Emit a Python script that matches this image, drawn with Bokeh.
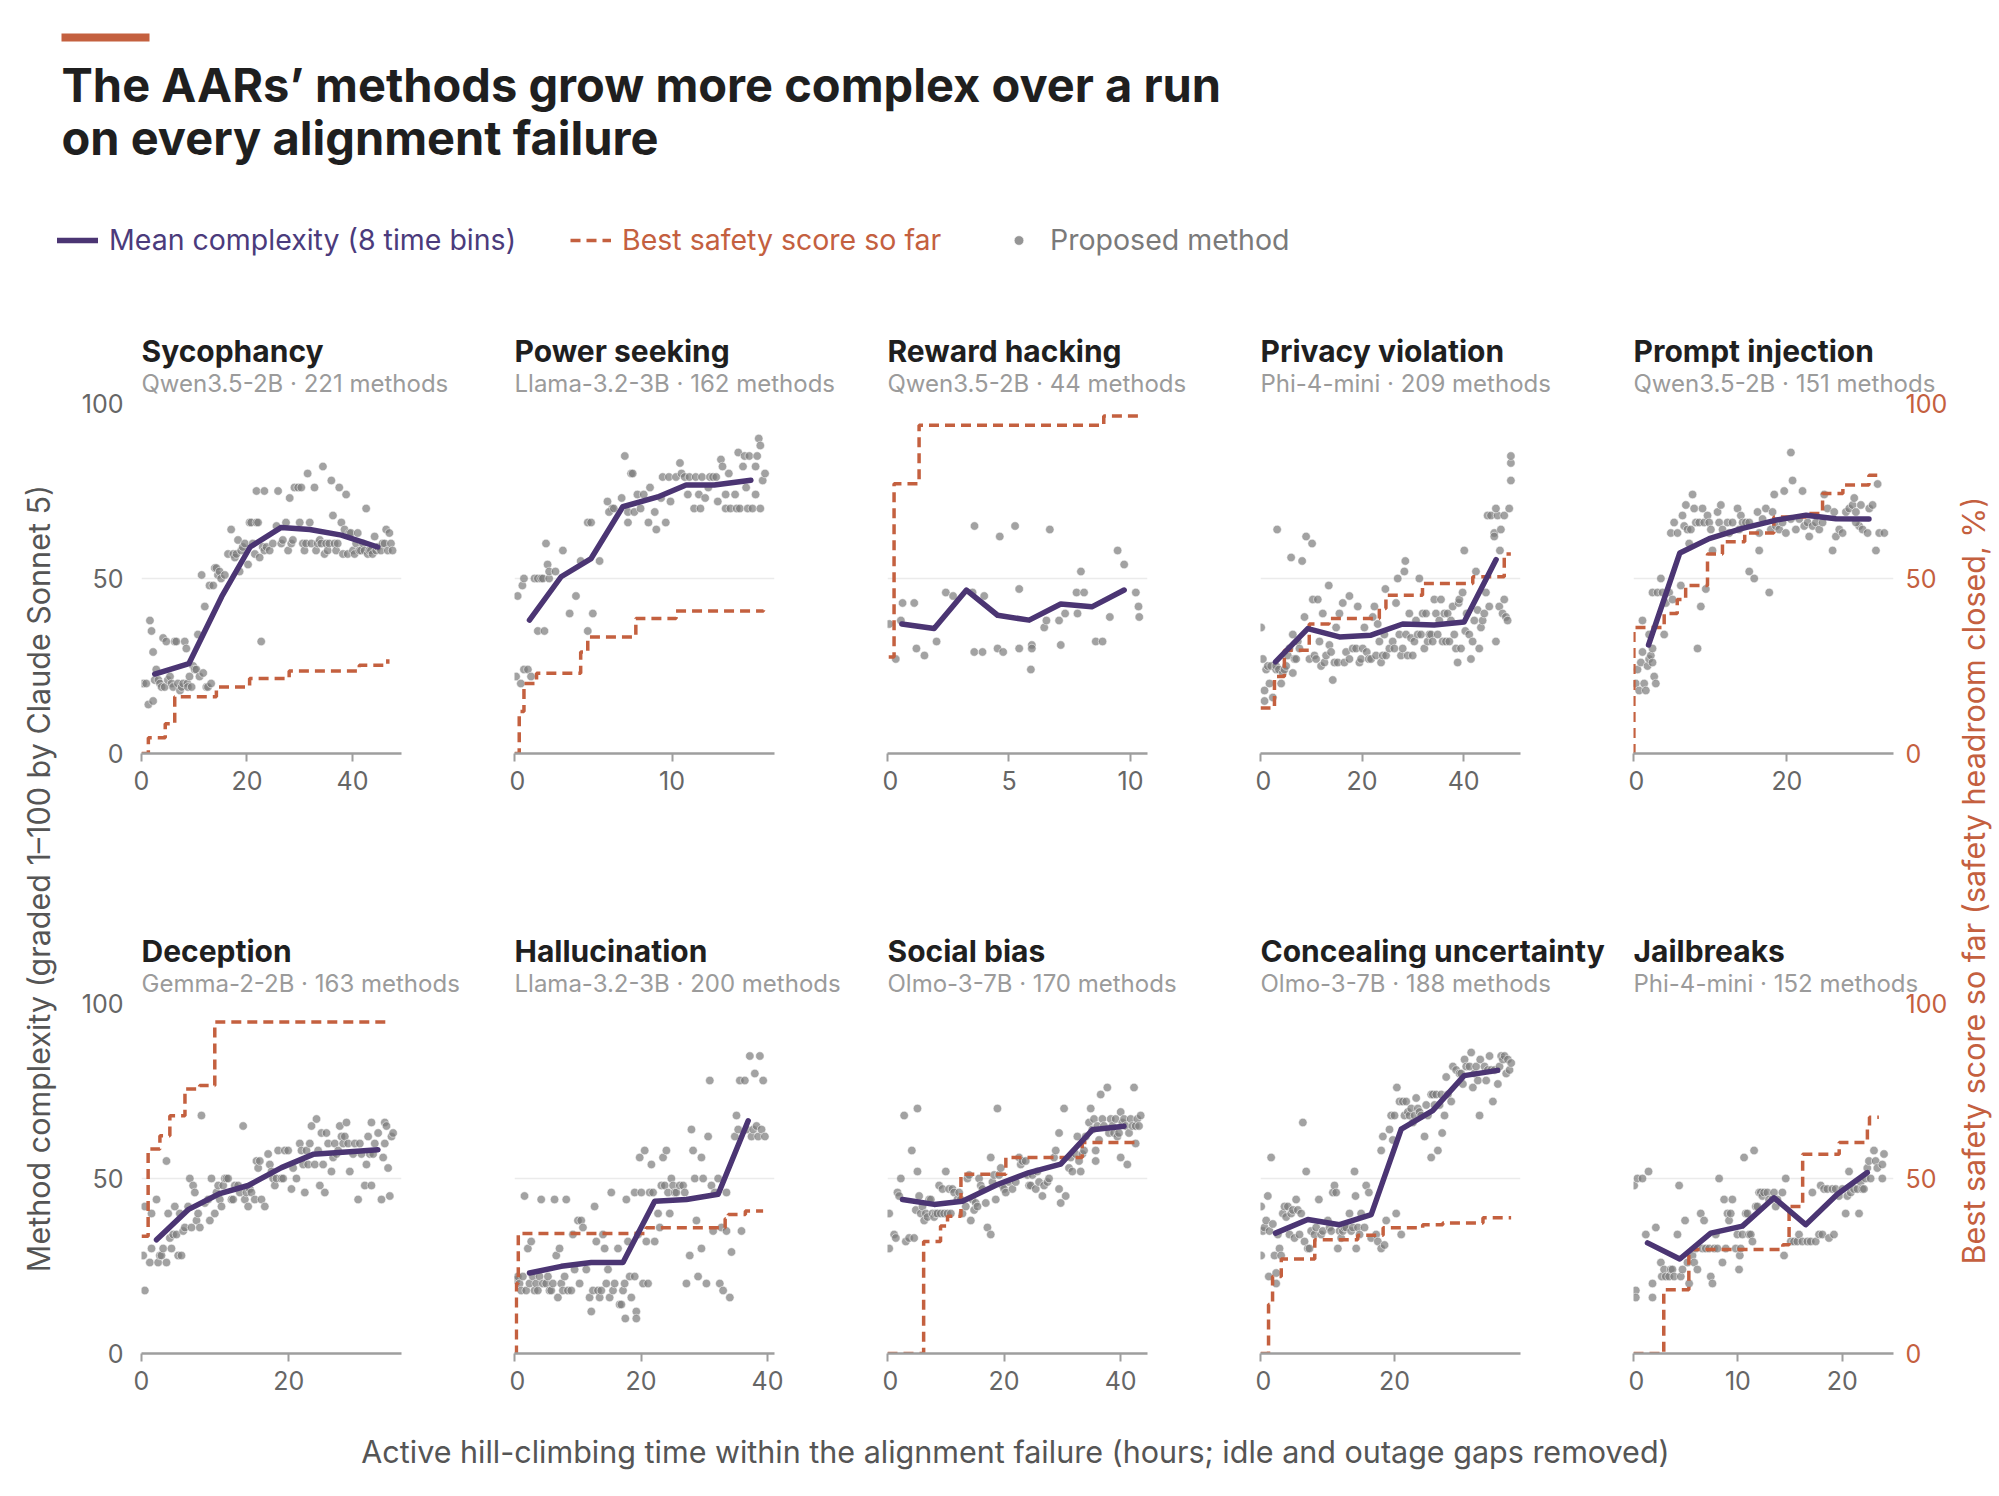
from math import pi
from bokeh.plotting import figure
from bokeh.layouts import row, column
from bokeh.models import (Range1d, FixedTicker, LinearAxis, Grid, Label, Title,
                          Legend, LegendItem, BoxAnnotation)
from bokeh.embed import file_html
from bokeh.resources import INLINE

PURPLE = "#4b3573"
ORANGE = "#c4603f"
DOT = "#7a7a7a"
FONT = "Inter"
NAN = float("nan")

TITLE_1 = "The AARs\u2019 methods grow more complex over a run"
TITLE_2 = "on every alignment failure"
Y_LABEL = "Method complexity (graded 1\u2013100 by Claude Sonnet 5)"
Y2_LABEL = "Best safety score so far (safety headroom closed, %)"
X_LABEL = "Active hill-climbing time within the alignment failure (hours; idle and outage gaps removed)"

# ---- Sycophancy
SYC_PTS = [(0.3,20),(0.9,20),(1.6,38),(1.9,35),(2.2,29),(1.3,14),(2.2,15),(2.5,21),(2.8,24),(3.2,21),(3.5,20),(3.8,19),(4.1,33),(4.4,19),(4.7,32),(5.0,21),(5.4,22),(5.7,20),(6.0,19),(6.3,32),(6.6,32),(6.9,20),(7.3,18),(7.6,19),(7.9,20),(8.2,32),(8.5,30),(8.7,20),(8.8,19),(9.1,22),(9.5,19),(9.8,25),(10.1,24),(10.4,24),(10.7,34),(11.0,22),(11.4,51),(11.7,23),(12.0,42),(12.3,19),(12.6,19),(12.9,48),(13.2,20),(13.6,48),(13.9,53),(14.2,53),(14.5,51),(14.8,52),(15.1,50),(15.8,51),(16.4,57),(17.0,64),(17.4,57),(17.7,56),(18.0,57),(18.3,61),(18.6,52),(18.9,58),(19.2,59),(19.6,60),(20.2,54),(20.5,66),(20.8,66),(21.1,60),(21.5,57),(21.8,66),(22.1,66),(22.4,56),(22.7,32),(23.0,59),(23.3,58),(23.7,59),(24.3,58),(24.9,60),(21.8,75),(23.3,75),(25.9,75),(25.6,65),(26.5,60),(26.8,61),(27.4,66),(27.8,58),(28.1,73),(28.4,60),(28.7,61),(29.0,76),(29.7,76),(30.0,66),(30.3,76),(30.6,60),(30.9,58),(31.2,60),(31.5,80),(31.9,66),(32.2,60),(32.8,76),(33.1,58),(33.4,60),(33.8,61),(34.1,60),(34.4,82),(34.7,57),(35.0,60),(35.3,58),(35.6,60),(36.0,78),(36.3,68),(36.6,60),(36.9,58),(37.2,60),(37.5,76),(37.9,66),(38.2,57),(38.5,64),(38.8,74),(39.1,57),(39.4,63),(39.7,63),(40.1,58),(40.4,57),(40.7,60),(41.0,63),(41.3,58),(41.6,58),(42.0,60),(42.3,58),(42.6,70),(42.9,57),(43.2,58),(43.5,58),(43.8,57),(44.2,62),(44.5,58),(44.8,59),(45.4,58),(45.7,60),(46.1,60),(46.4,64),(46.7,58),(47.0,63),(47.3,60),(47.6,58)]
SYC_MEAN_X = [2.5, 9.0, 15.2, 20.6, 26.5, 31.9, 37.9, 44.8]
SYC_MEAN_Y = [22.7, 25.7, 44.8, 59.0, 64.6, 64.0, 62.4, 59.0]
SYC_BEST_X = [0, 1.3, 4.5, 6.3, 14.2, 20.5, 28.0, 41.3, 46.7]
SYC_BEST_Y = [0, 4.5, 8.5, 16.2, 19.0, 21.4, 23.6, 25.2, 26.9]

# ---- Power seeking
POW_PTS = [(0.1,22),(0.4,20),(0.6,24),(0.85,24),(1.05,22),(0.2,45),(0.5,48),(0.6,50),(1.27,50),(1.48,50),(1.69,50),(1.8,50),(2.2,50),(2.1,54),(2.2,52),(2.6,52),(2.0,60),(3.07,58),(1.48,35),(1.9,35),(3.5,40),(3.9,45),(4.65,35),(4.97,40),(4.2,55),(4.65,66),(4.86,66),(5.4,55),(5.9,72),(6.2,70),(6.0,69),(6.3,70),(6.8,73),(7.2,69),(7.6,69),(7.0,85),(7.4,80),(7.5,80),(7.2,66),(7.8,74),(8.0,70),(8.2,74),(8.5,66),(8.6,76),(8.9,69),(9.0,64),(9.3,73),(9.4,79),(9.6,66),(9.8,79),(9.9,72),(10.25,79),(10.5,83),(10.6,80),(10.8,79),(11.0,74),(11.1,79),(11.4,70),(11.5,79),(11.7,74),(11.8,70),(11.9,79),(12.1,73),(12.3,76),(12.4,79),(12.6,79),(12.8,79),(12.9,72),(13.1,84),(13.2,82),(13.4,74),(13.4,70),(13.6,80),(13.7,70),(14.0,74),(14.1,70),(14.2,86),(14.3,70),(14.5,82),(14.6,85),(14.7,76),(14.8,70),(14.9,85),(15.1,70),(15.3,74),(15.3,82),(15.4,85),(15.5,90),(15.6,70),(15.6,88),(15.75,78),(15.9,80)]
POW_MEAN_X = [0.95, 2.96, 4.86, 6.87, 9.09, 10.89, 12.68, 15.0]
POW_MEAN_Y = [38.1, 50.5, 55.7, 70.5, 73.3, 76.7, 76.7, 78.1]
POW_BEST_X = [0, 0.3, 0.6, 1.4, 4.2, 4.65, 7.7, 10.25, 15.8]
POW_BEST_Y = [0, 12, 20, 22.9, 29, 33.3, 38.6, 40.7, 40.9]

# ---- Reward hacking
REW_PTS = [(0.07,37),(0.34,27),(0.55,38),(0.62,43),(1.10,43),(1.19,30),(1.52,28),(2.02,32),(2.40,46),(2.70,45),(3.58,65),(3.57,29),(3.91,29),(3.98,45),(3.50,46),(4.53,30),(4.62,62),(4.76,29),(5.25,65),(5.42,47),(5.42,30),(5.90,24),(5.94,31),(5.94,30),(6.45,36),(6.54,38),(6.68,64),(7.06,38),(7.13,31),(7.31,40),(7.82,40),(7.78,46),(8.09,46),(7.96,52),(8.57,32),(8.85,32),(9.15,39),(9.47,58),(9.74,54),(10.22,46),(10.33,42),(10.36,39)]
REW_MEAN_X = [0.59, 1.92, 3.25, 4.53, 5.83, 7.13, 8.41, 9.74]
REW_MEAN_Y = [37.0, 35.7, 46.7, 39.5, 38.1, 42.7, 41.9, 46.7]
REW_BEST_X = [0.05, 0.27, 1.3, 8.9, 10.36]
REW_BEST_Y = [27.6, 77.1, 93.8, 96.4, 96.4]

# ---- Privacy violation
PRI_PTS = [(0.13,36),(0.46,27),(0.79,18),(0.79,15),(1.11,24),(1.44,25),(1.77,20),(2.10,25),(2.43,16),(3.08,24),(3.08,25),(3.28,64),(3.61,24),(4.07,20),(4.39,23),(4.72,24),(5.05,25),(5.38,28),(5.70,30),(6.03,56),(6.36,34),(6.36,23),(6.69,27),(7.02,27),(7.34,32),(7.67,30),(8.20,55),(8.66,39),(8.98,62),(9.64,27),(10.16,60),(10.30,44),(10.62,28),(10.95,27),(11.28,44),(11.61,32),(11.93,25),(12.26,40),(12.59,26),(12.92,28),(13.44,48),(13.57,31),(13.90,29),(14.23,21),(14.56,26),(14.89,36),(15.21,26),(15.54,40),(16.20,43),(16.52,26),(16.85,29),(17.51,45),(17.51,27),(18.16,30),(18.82,30),(19.15,42),(19.48,26),(19.80,27),(20.13,30),(20.46,36),(20.92,29),(21.31,27),(21.77,27),(22.10,39),(22.43,42),(22.75,28),(23.08,37),(23.41,32),(23.74,26),(24.07,28),(24.39,34),(24.59,47),(24.72,28),(25.38,30),(26.03,32),(26.36,30),(26.69,43),(27.02,50),(27.34,34),(27.67,28),(28.0,30),(28.33,52),(28.52,55),(28.66,34),(28.98,28),(29.31,40),(29.64,33),(29.97,28),(30.30,32),(30.62,38),(30.95,34),(31.28,50),(31.61,34),(31.93,40),(32.26,30),(32.59,40),(32.92,32),(33.25,34),(33.57,34),(33.90,32),(34.23,44),(34.56,40),(34.89,34),(35.21,38),(35.54,44),(35.87,32),(36.20,40),(36.52,32),(36.85,40),(37.18,32),(37.51,38),(37.84,42),(38.16,34),(38.49,30),(38.82,26),(39.02,43),(39.15,44),(39.48,30),(39.80,46),(40.13,58),(40.33,35),(40.59,40),(41.11,34),(41.44,27),(41.77,32),(42.10,38),(42.43,52),(42.75,41),(43.08,30),(43.41,36),(43.74,38),(44.07,40),(44.39,46),(44.72,68),(45.05,42),(45.38,68),(46.03,63),(46.03,62),(46.36,32),(46.69,68),(47.02,42),(47.34,64),(47.67,40),(48.0,68),(48.0,44),(48.33,39),(48.66,38),(48.98,70),(49.31,78),(49.31,83),(49.31,85),(47.15,58),(46.36,70)]
PRI_MEAN_X = [2.95, 9.31, 15.54, 21.77, 28.0, 34.2, 40.1, 46.4]
PRI_MEAN_Y = [26.2, 35.7, 33.3, 33.8, 37.0, 36.7, 37.6, 55.4]
PRI_BEST_X = [0, 2.75, 4.7, 9.6, 13.5, 23.4, 24.7, 31.9, 41.8, 48.0, 49.3]
PRI_BEST_Y = [13, 22, 29.5, 37, 38.6, 41.4, 45.2, 48.6, 50.5, 57, 57]

# ---- Prompt injection
PRO_PTS = [(0.3,20),(0.52,24),(0.74,18),(0.96,26),(1.17,29),(1.39,20),(1.61,18),(1.83,25),(2.04,27),(2.26,28),(2.48,26),(2.70,22),(2.91,20),(2.48,30),(1.17,38),(2.04,34),(2.48,46),(3.13,46),(3.57,50),(3.78,46),(4.22,43),(4.0,34),(4.65,46),(4.87,63),(5.09,44),(5.30,66),(5.74,63),(6.39,68),(6.17,48),(6.61,65),(6.83,71),(7.04,64),(7.26,60),(7.48,64),(7.70,74),(7.91,70),(8.13,66),(8.35,30),(8.57,66),(8.78,42),(9.0,70),(9.22,66),(9.43,47),(9.65,68),(9.87,66),(10.09,64),(10.30,58),(10.96,69),(11.17,66),(11.39,71),(11.61,64),(12.26,66),(12.48,63),(12.91,66),(13.57,70),(13.78,64),(14.0,68),(14.22,66),(14.65,66),(15.09,66),(15.09,52),(15.74,50),(16.17,69),(16.39,63),(16.83,67),(17.26,70),(17.70,46),(17.91,64),(18.13,69),(18.35,74),(18.57,65),(19.0,64),(19.43,66),(19.65,75),(19.87,63),(20.52,86),(20.74,78),(21.17,64),(21.61,67),(22.04,75),(22.26,65),(22.70,66),(22.91,62),(23.35,65),(23.78,66),(24.22,64),(24.65,66),(24.87,74),(25.30,70),(25.96,58),(26.17,69),(26.39,62),(26.83,64),(27.26,63),(27.70,69),(28.13,70),(28.57,71),(28.78,73),(29.0,69),(29.43,65),(29.65,71),(29.87,64),(30.52,63),(30.74,70),(31.17,71),(31.61,58),(31.83,77),(32.04,63),(32.70,63),(29.0,66),(20.52,67),(16.39,58)]
PRO_MEAN_X = [1.96, 6.04, 9.87, 14.2, 18.6, 22.5, 26.4, 30.7]
PRO_MEAN_Y = [31.0, 57.3, 61.4, 64.3, 66.7, 68.1, 67.1, 67.0]
PRO_BEST_X = [0, 0.05, 4.0, 5.7, 6.8, 9.65, 11.6, 14.5, 18.3, 22.5, 24.65, 27.3, 30.7, 32.0]
PRO_BEST_Y = [0, 36, 40, 44, 48, 57, 60.5, 63, 67.6, 68.6, 74.3, 76.7, 79.5, 79.5]

# ---- Deception
DEC_PTS = [(0.23,28),(0.45,18),(0.45,42),(1.13,26),(1.36,40),(1.36,30),(2.04,44),(2.26,26),(2.49,28),(2.71,28),(2.94,30),(3.39,26),(3.39,55),(3.62,40),(3.85,33),(4.07,30),(4.30,34),(4.52,42),(4.75,34),(4.98,28),(5.20,40),(5.43,28),(5.66,35),(5.88,36),(6.33,42),(6.56,50),(6.79,36),(7.01,48),(7.24,46),(7.47,38),(7.69,40),(7.92,36),(8.14,68),(8.60,43),(9.05,44),(9.28,38),(9.50,50),(9.95,40),(10.18,46),(10.41,48),(10.63,44),(10.86,42),(11.09,48),(11.31,50),(11.54,50),(11.76,50),(12.22,44),(12.44,44),(12.67,48),(13.12,48),(13.35,46),(13.80,65),(14.03,44),(14.25,46),(14.48,42),(14.71,47),(14.93,46),(15.38,44),(15.61,55),(15.84,53),(16.06,55),(16.29,44),(16.74,42),(17.19,57),(17.42,54),(17.65,52),(17.87,50),(18.10,48),(18.33,50),(18.55,58),(19.0,50),(19.23,50),(19.46,58),(19.91,58),(20.36,47),(20.59,53),(21.04,50),(21.49,60),(21.72,58),(21.95,54),(22.17,46),(22.40,58),(22.62,54),(22.85,60),(23.08,65),(23.53,54),(23.76,67),(23.98,58),(24.21,48),(24.43,63),(24.66,54),(24.89,46),(25.11,63),(25.34,60),(25.79,52),(26.02,56),(26.24,60),(26.47,57),(26.70,58),(26.92,65),(27.15,62),(27.38,60),(27.60,62),(27.83,66),(28.05,60),(28.28,52),(28.73,57),(28.96,60),(29.41,44),(29.64,60),(29.86,57),(30.32,48),(30.54,54),(30.77,62),(31.0,57),(31.22,48),(31.22,66),(31.45,57),(31.67,60),(32.13,63),(32.58,44),(32.81,56),(33.03,60),(33.03,66),(33.26,65),(33.48,53),(33.71,45),(33.94,62),(34.16,63)]
DEC_MEAN_X = [2.04, 6.33, 10.63, 14.48, 19.0, 23.3, 27.8, 32.1]
DEC_MEAN_Y = [32.5, 41.1, 45.7, 48.0, 53.1, 56.9, 57.6, 58.2]
DEC_BEST_X = [0, 0.9, 2.5, 3.85, 5.9, 7.9, 9.95, 33.9]
DEC_BEST_Y = [33.5, 58.4, 62.2, 67.9, 75.6, 76.6, 94.7, 94.7]

# ---- Hallucination
HAL_PTS = [(0.26,21),(0.53,22),(0.79,20),(1.06,18),(1.32,22),(1.58,45),(1.85,18),(2.11,30),(2.37,20),(2.64,32),(2.90,22),(3.17,18),(3.43,20),(3.69,18),(3.96,22),(4.22,44),(4.49,20),(5.01,20),(5.28,22),(5.54,18),(5.80,18),(6.07,20),(6.33,44),(6.60,28),(6.86,16),(7.12,30),(7.39,20),(7.65,18),(7.92,22),(8.18,44),(8.44,18),(8.97,18),(9.23,34),(9.50,24),(10.03,38),(10.29,20),(10.55,38),(10.82,36),(11.35,24),(11.87,16),(12.14,12),(12.40,18),(12.66,42),(12.93,32),(13.19,18),(13.46,16),(13.72,18),(13.98,34),(14.25,30),(14.51,20),(14.78,24),(15.04,16),(15.30,46),(15.57,18),(15.83,20),(16.36,30),(16.62,14),(16.89,14),(17.15,18),(17.41,20),(17.52,10),(17.68,44),(17.94,32),(18.21,22),(18.47,16),(19.0,22),(19.0,46),(19.26,12),(19.26,10),(19.53,34),(19.79,56),(20.05,46),(20.32,20),(20.58,58),(20.84,32),(21.11,20),(21.37,46),(21.64,54),(21.90,46),(22.16,32),(22.69,40),(22.96,36),(23.22,48),(23.48,56),(23.75,48),(24.01,58),(24.27,46),(24.54,40),(24.80,50),(25.07,48),(25.33,46),(25.59,46),(26.12,48),(26.65,48),(26.91,46),(27.18,20),(27.70,28),(27.97,64),(28.23,58),(28.50,50),(28.76,38),(29.02,22),(29.55,56),(29.55,30),(29.82,50),(30.34,20),(30.61,62),(30.87,78),(31.13,48),(31.40,35),(31.66,46),(32.19,50),(32.45,20),(32.72,36),(32.98,18),(33.51,46),(33.51,35),(34.04,16),(34.30,29),(34.83,62),(35.09,68),(35.36,64),(35.62,78),(35.88,35),(36.41,78),(36.68,64),(37.20,85),(37.47,62),(37.73,64),(37.99,80),(38.26,65),(38.52,62),(38.79,85),(39.05,64),(39.31,78),(39.58,62)]
HAL_MEAN_X = [2.37, 7.39, 12.14, 17.15, 22.16, 27.18, 32.19, 36.94]
HAL_MEAN_Y = [23.0, 24.9, 26.0, 26.0, 43.5, 44.0, 45.5, 66.5]
HAL_BEST_X = [0, 0.3, 0.6, 20.8, 33.3, 33.8, 36.5, 39.3]
HAL_BEST_Y = [0, 20, 34.3, 35.9, 38.5, 39.7, 40.7, 40.7]

# ---- Social bias
SOC_PTS = [(0.29,30),(0.29,40),(1.14,34),(1.43,33),(1.71,46),(2.0,45),(2.29,50),(2.86,68),(3.14,32),(3.71,33),(4.17,58),(4.57,33),(4.86,41),(5.14,52),(5.14,70),(5.43,45),(5.71,40),(6.0,42),(6.29,38),(6.57,40),(6.86,39),(7.14,44),(7.43,44),(7.71,40),(8.0,39),(8.29,40),(8.57,40),(8.86,48),(9.14,40),(9.43,47),(9.71,40),(10.0,52),(10.29,40),(10.57,47),(10.86,40),(11.14,47),(11.43,46),(12.0,44),(12.29,46),(12.57,44),(12.86,40),(13.43,42),(13.71,50),(14.0,51),(14.29,38),(14.57,44),(14.86,41),(15.14,43),(15.43,42),(15.71,50),(16.0,48),(16.29,47),(16.86,43),(17.14,36),(17.71,34),(17.71,56),(18.0,49),(18.29,51),(18.57,44),(18.86,70),(19.14,51),(19.43,53),(19.71,48),(20.0,47),(20.29,46),(20.86,49),(21.43,47),(22.0,49),(22.57,56),(22.86,54),(23.14,55),(23.71,55),(24.0,51),(24.29,48),(24.57,48),(24.86,51),(25.43,47),(25.71,52),(26.0,49),(26.57,45),(26.86,48),(27.43,49),(27.71,50),(28.57,56),(28.86,58),(29.43,63),(29.43,47),(29.71,43),(30.29,70),(30.57,45),(31.14,53),(31.43,56),(31.71,52),(32.29,57),(32.57,62),(32.86,55),(33.14,52),(33.43,57),(33.71,58),(34.0,62),(34.57,66),(34.86,70),(35.14,64),(35.43,67),(35.71,58),(35.71,55),(36.0,65),(36.29,61),(36.57,74),(36.86,67),(37.14,65),(37.71,76),(38.0,63),(38.29,67),(38.57,65),(38.86,63),(39.14,67),(39.43,62),(39.71,63),(40.0,69),(40.0,56),(40.29,66),(40.57,67),(40.86,65),(41.14,54),(41.43,63),(41.71,67),(42.0,65),(42.29,76),(42.57,65),(42.57,60),(42.86,67),(43.14,65),(43.43,68)]
SOC_MEAN_X = [2.57, 8.0, 12.86, 18.86, 24.29, 29.71, 35.14, 40.57]
SOC_MEAN_Y = [44.0, 42.6, 43.5, 48.3, 51.7, 54.1, 63.9, 64.9]
SOC_BEST_X = [0, 6.2, 9.1, 10.3, 12.6, 20.3, 33.4, 42.9]
SOC_BEST_Y = [0, 32, 36.4, 39.2, 51.2, 56, 60.3, 60.8]

# ---- Concealing uncertainty
CON_PTS = [(0.1,42),(0.1,28),(0.35,35),(0.6,36),(0.85,38),(1.09,45),(1.24,22),(1.34,35),(1.59,56),(1.84,37),(2.09,28),(2.34,20),(2.34,23),(2.59,34),(2.84,30),(3.08,28),(3.33,40),(3.58,42),(3.83,39),(4.08,42),(4.33,34),(4.58,40),(4.83,41),(5.07,33),(5.32,44),(5.57,41),(5.82,34),(6.07,40),(6.32,66),(6.57,32),(6.82,52),(7.06,30),(7.31,30),(7.56,35),(8.06,34),(8.31,36),(8.71,44),(9.05,34),(9.30,35),(10.05,38),(10.30,36),(10.55,35),(10.80,46),(11.04,48),(11.29,46),(11.54,30),(11.79,35),(12.04,33),(12.29,35),(12.54,36),(12.79,36),(13.28,40),(13.53,35),(13.78,36),(14.03,52),(14.18,45),(14.28,30),(14.53,36),(14.78,34),(15.02,40),(15.52,36),(15.77,48),(16.17,46),(16.52,33),(17.26,34),(17.51,32),(18.01,30),(18.01,58),(18.26,62),(18.51,31),(18.76,38),(19.25,64),(19.50,68),(19.75,61),(20.0,68),(20.25,40),(20.35,76),(20.75,72),(21.0,34),(21.24,72),(21.49,68),(21.74,72),(21.99,69),(22.24,68),(22.49,70),(22.74,66),(22.99,68),(23.23,73),(23.48,70),(23.73,69),(23.98,68),(24.48,62),(24.73,71),(24.98,68),(25.47,74),(25.47,56),(25.72,74),(25.97,71),(26.22,74),(26.47,58),(26.72,71),(26.97,74),(27.11,63),(27.46,68),(27.71,79),(27.96,74),(28.46,72),(28.71,82),(29.20,81),(29.70,80),(29.95,80),(30.20,77),(30.45,84),(30.70,82),(31.19,82),(31.44,86),(31.69,76),(31.94,80),(32.19,82),(32.44,78),(32.69,68),(32.79,84),(33.43,82),(33.68,78),(33.93,81),(34.18,85),(34.43,81),(34.68,72),(34.93,81),(35.42,77),(35.67,82),(35.92,85),(36.17,84),(36.42,85),(36.67,80),(36.92,84),(37.16,81),(37.41,83)]
CON_MEAN_X = [2.24, 7.06, 11.79, 16.52, 21.0, 25.7, 30.4, 35.4]
CON_MEAN_Y = [34.4, 38.3, 36.8, 39.7, 64.1, 69.4, 79.4, 80.9]
CON_BEST_X = [0, 1.2, 1.8, 3.1, 8.1, 14.5, 18.3, 24.2, 27.2, 33.2, 37.4]
CON_BEST_Y = [0, 14, 22, 27, 32.5, 33.8, 35.9, 36.8, 37.3, 38.8, 38.8]

# ---- Jailbreaks
JAI_PTS = [(0.06,48),(0.22,18),(0.22,16),(0.38,50),(0.86,50),(1.18,34),(1.44,52),(1.82,20),(1.82,16),(2.14,36),(2.62,26),(2.71,22),(2.93,24),(3.09,22),(3.41,22),(3.57,24),(3.73,24),(3.89,22),(4.21,34),(4.37,48),(4.53,22),(4.69,24),(4.94,38),(5.17,26),(5.33,20),(5.65,28),(5.81,26),(5.96,30),(6.12,24),(6.44,40),(6.60,30),(6.76,38),(6.92,30),(7.24,30),(7.40,22),(7.56,20),(7.72,30),(7.88,34),(8.04,30),(8.20,50),(8.52,26),(8.68,44),(8.84,30),(9.0,40),(9.15,38),(9.31,40),(9.47,44),(9.79,30),(9.95,34),(10.11,24),(10.18,28),(10.27,30),(10.43,34),(10.59,56),(10.75,40),(10.91,40),(11.07,34),(11.23,34),(11.39,32),(11.55,58),(11.71,42),(11.87,42),(12.03,46),(12.19,46),(12.34,45),(12.50,46),(12.82,46),(12.98,44),(13.30,44),(13.46,46),(13.62,42),(13.78,44),(14.26,46),(14.42,28),(14.58,50),(15.06,32),(15.37,32),(15.69,32),(15.85,34),(16.17,32),(16.65,32),(16.97,32),(17.13,46),(17.45,32),(17.77,34),(17.93,48),(18.09,34),(18.25,47),(18.56,47),(18.72,33),(19.04,47),(19.20,34),(19.36,47),(19.68,45),(20.0,47),(20.32,40),(20.48,45),(20.64,52),(20.80,46),(21.12,47),(21.44,47),(21.60,40),(21.75,49),(21.91,47),(22.07,47),(22.23,50),(22.39,53),(22.55,55),(22.71,50),(23.03,58),(23.19,55),(23.35,53),(23.83,54),(23.99,57),(23.83,50)]
JAI_MEAN_X = [1.34, 4.43, 7.40, 10.43, 13.46, 16.49, 19.52, 22.39]
JAI_MEAN_Y = [31.6, 27.0, 34.4, 36.4, 44.5, 36.8, 45.5, 51.7]
JAI_BEST_X = [0, 2.9, 5.3, 14.3, 14.9, 16.2, 19.7, 22.4, 22.6, 23.5]
JAI_BEST_Y = [0, 18.2, 29.7, 31.1, 42, 56.9, 60.3, 64.1, 67.5, 67.5]

NAMES = ["Sycophancy", "Power seeking", "Reward hacking", "Privacy violation", "Prompt injection",
         "Deception", "Hallucination", "Social bias", "Concealing uncertainty", "Jailbreaks"]
SUBTITLES = ["Qwen3.5-2B \u00b7 221 methods", "Llama-3.2-3B \u00b7 162 methods", "Qwen3.5-2B \u00b7 44 methods",
             "Phi-4-mini \u00b7 209 methods", "Qwen3.5-2B \u00b7 151 methods", "Gemma-2-2B \u00b7 163 methods",
             "Llama-3.2-3B \u00b7 200 methods", "Olmo-3-7B \u00b7 170 methods", "Olmo-3-7B \u00b7 188 methods",
             "Phi-4-mini \u00b7 152 methods"]
X_MAX = [49.3, 16.5, 10.7, 51.2, 33.9, 35.3, 41.1, 44.6, 38.8, 24.9]
X_TICKS = [[0, 20, 40], [0, 10], [0, 5, 10], [0, 20, 40], [0, 20],
           [0, 20], [0, 20, 40], [0, 20, 40], [0, 20], [0, 10, 20]]
Y_TICKS = [0, 50, 100]

SERIES = [
    (SYC_PTS, SYC_MEAN_X, SYC_MEAN_Y, SYC_BEST_X, SYC_BEST_Y),
    (POW_PTS, POW_MEAN_X, POW_MEAN_Y, POW_BEST_X, POW_BEST_Y),
    (REW_PTS, REW_MEAN_X, REW_MEAN_Y, REW_BEST_X, REW_BEST_Y),
    (PRI_PTS, PRI_MEAN_X, PRI_MEAN_Y, PRI_BEST_X, PRI_BEST_Y),
    (PRO_PTS, PRO_MEAN_X, PRO_MEAN_Y, PRO_BEST_X, PRO_BEST_Y),
    (DEC_PTS, DEC_MEAN_X, DEC_MEAN_Y, DEC_BEST_X, DEC_BEST_Y),
    (HAL_PTS, HAL_MEAN_X, HAL_MEAN_Y, HAL_BEST_X, HAL_BEST_Y),
    (SOC_PTS, SOC_MEAN_X, SOC_MEAN_Y, SOC_BEST_X, SOC_BEST_Y),
    (CON_PTS, CON_MEAN_X, CON_MEAN_Y, CON_BEST_X, CON_BEST_Y),
    (JAI_PTS, JAI_MEAN_X, JAI_MEAN_Y, JAI_BEST_X, JAI_BEST_Y),
]

# panel geometry (pixels)
FRAME_W, FRAME_H = 260, 350
LEFT_W, RIGHT_W = 78, 44
BORDER_L = [62, 5, 5, 5, 5]
BORDER_R = [108, 108, 108, 108, 60]
TOP_B = 73
BOTTOM_B = [177, 60]


def blank(w, h):
    # plain canvas in pixel units (y grows downward) for titles and labels
    p = figure(width=w, height=h, x_range=Range1d(0, w), y_range=Range1d(h, 0),
               x_axis_location=None, y_axis_location=None, min_border=0,
               output_backend="svg", toolbar_location=None, outline_line_color=None)
    p.grid.visible = False
    return p


def make_panel(i):
    pts, mx, my, bx, by = SERIES[i]
    col = i % 5
    first, last = col == 0, col == 4
    p = figure(frame_width=FRAME_W, frame_height=FRAME_H,
               x_range=Range1d(0, X_MAX[i]), y_range=Range1d(0, 100),
               y_axis_location="left" if first else None,
               min_border_left=BORDER_L[col], min_border_right=BORDER_R[col],
               min_border_top=TOP_B, min_border_bottom=BOTTOM_B[i // 5],
               output_backend="svg", toolbar_location=None, outline_line_color=None)
    p.extra_y_ranges = {"safety": Range1d(0, 100)}
    p.center = [r for r in p.center if not isinstance(r, Grid)]
    p.add_layout(Grid(dimension=1, ticker=FixedTicker(ticks=[50, 100]),
                      grid_line_color="#ebebeb", grid_line_width=1.5))

    # failure name and model line above the frame (first added sits nearest the frame)
    p.add_layout(Title(text=SUBTITLES[i], align="left", vertical_align="bottom", standoff=11,
                       text_font=FONT, text_font_size="24px", text_font_style="normal",
                       text_color="#9b9b9b"), "above")
    p.add_layout(Title(text=NAMES[i], align="left", vertical_align="bottom", standoff=-14,
                       text_font=FONT, text_font_size="30px", text_font_style="bold",
                       text_color="#1f1f1f"), "above")

    ax = p.xaxis[0]
    ax.ticker = FixedTicker(ticks=X_TICKS[i])
    ax.axis_line_color = "#9e9e9e"
    ax.axis_line_width = 2.5
    ax.major_tick_line_color = "#9e9e9e"
    ax.major_tick_line_width = 2
    ax.major_tick_out = 8
    ax.major_tick_in = 0
    ax.minor_tick_line_color = None
    ax.major_label_text_font = FONT
    ax.major_label_text_font_size = "25px"
    ax.major_label_text_color = "#666666"
    ax.major_label_standoff = 9

    if first:
        ay = p.yaxis[0]
        ay.ticker = FixedTicker(ticks=Y_TICKS)
        ay.axis_line_color = None
        ay.major_tick_line_color = None
        ay.minor_tick_line_color = None
        ay.major_label_text_font = FONT
        ay.major_label_text_font_size = "25px"
        ay.major_label_text_color = "#666666"
        ay.major_label_standoff = 12
    if last:
        ar = LinearAxis(y_range_name="safety", ticker=FixedTicker(ticks=Y_TICKS),
                        axis_line_color=None, major_tick_line_color=None,
                        minor_tick_line_color=None, major_label_text_font=FONT,
                        major_label_text_font_size="25px", major_label_text_color=ORANGE,
                        major_label_standoff=6)
        p.add_layout(ar, "right")

    xs = [a for a, b in pts]
    ys = [b for a, b in pts]
    p.scatter(xs, ys, size=8.5, fill_color=DOT, fill_alpha=0.7,
              line_color="white", line_width=0.6, line_alpha=0.9)
    p.step(bx, by, mode="after", line_color=ORANGE, line_width=3.5,
           line_dash="10 6", y_range_name="safety")
    p.line(mx, my, line_color=PURPLE, line_width=5.5, line_cap="round", line_join="round")
    return p


panels = [make_panel(i) for i in range(10)]

panels_w = sum(BORDER_L) + sum(BORDER_R) + 5 * FRAME_W
total_w = LEFT_W + panels_w + RIGHT_W
mid_h = 2 * (TOP_B + FRAME_H) + sum(BOTTOM_B)

# header: accent bar, title and legend
header = blank(total_w, 330)
header.add_layout(BoxAnnotation(left=61, right=149, top=33, bottom=41,
                                fill_color=ORANGE, fill_alpha=1, line_color=None))
header.add_layout(Label(x=61, y=84, text=TITLE_1, text_font=FONT, text_font_size="47px",
                        text_font_style="bold", text_color="#1f1f1f", text_baseline="middle"))
header.add_layout(Label(x=61, y=137, text=TITLE_2, text_font=FONT, text_font_size="47px",
                        text_font_style="bold", text_color="#1f1f1f", text_baseline="middle"))

r_mean = header.line([NAN], [NAN], line_color=PURPLE, line_width=5.5, line_cap="round")
r_best = header.line([NAN], [NAN], line_color=ORANGE, line_width=3.5, line_dash="10 6")
r_dot = header.scatter([NAN], [NAN], fill_color=DOT, fill_alpha=0.8, line_color="white", line_width=0.6)

for label, rend, color, x in [("Mean complexity (8 time bins)", r_mean, "#4b3b7c", 57),
                              ("Best safety score so far", r_best, ORANGE, 570),
                              ("Proposed method", r_dot, "#7a7a7a", 998)]:
    lg = Legend(items=[LegendItem(label=label, renderers=[rend])], location=(x, 73),
                orientation="horizontal", border_line_color=None, background_fill_alpha=0,
                padding=0, margin=0, glyph_width=41, glyph_height=24, label_height=24,
                label_standoff=11, label_text_font=FONT, label_text_font_size="28.5px",
                label_text_color=color)
    header.add_layout(lg)

left = blank(LEFT_W, mid_h)
left.add_layout(Label(x=38, y=548, angle=pi / 2, text=Y_LABEL, text_font=FONT,
                      text_font_size="30.5px", text_color="#555555",
                      text_align="center", text_baseline="middle"))

right = blank(RIGHT_W, mid_h)
right.add_layout(Label(x=20, y=550, angle=pi / 2, text=Y2_LABEL, text_font=FONT,
                       text_font_size="30.5px", text_color=ORANGE,
                       text_align="center", text_baseline="middle"))

bottom = blank(total_w, 67)
bottom.add_layout(Label(x=1015, y=38, text=X_LABEL, text_font=FONT, text_font_size="30.5px",
                        text_color="#555555", text_align="center", text_baseline="middle"))

grid = column(row(*panels[:5]), row(*panels[5:]))
page = column(header, row(left, grid, right), bottom)

open("out.html", "w").write(file_html(page, INLINE))
